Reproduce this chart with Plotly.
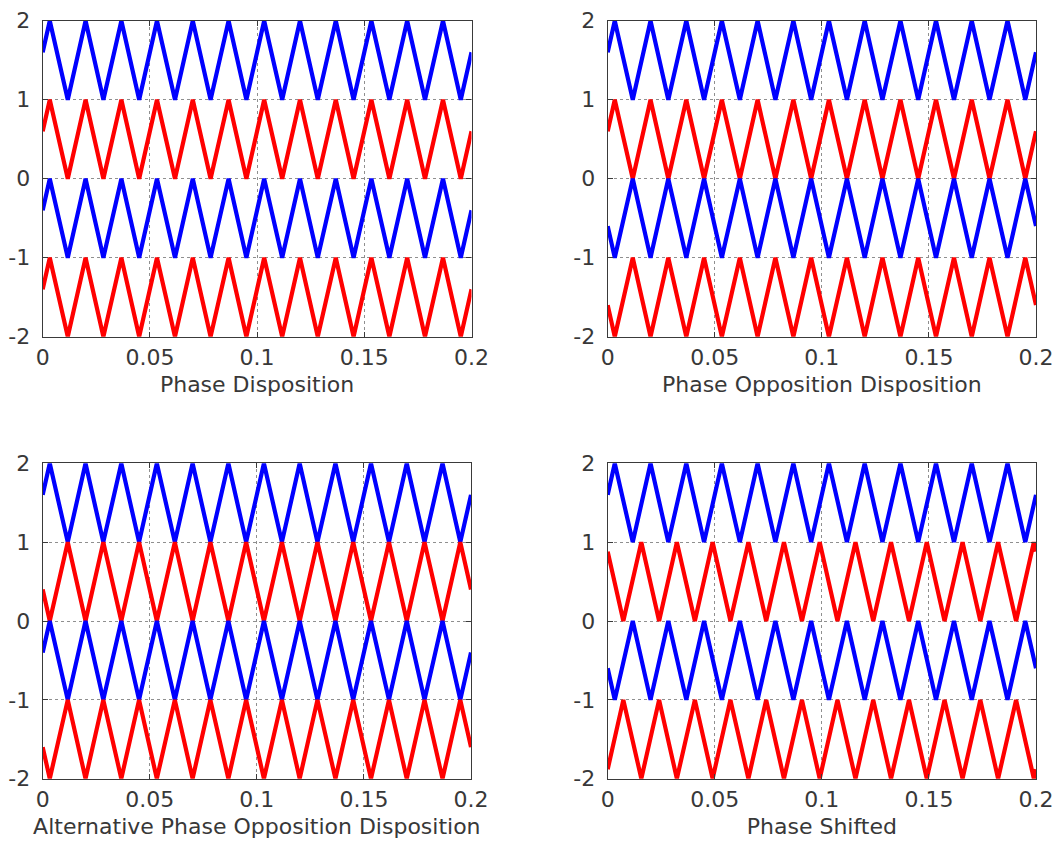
import plotly.graph_objects as go

# ---- data (carrier vertices, normalised to one band) ----
# pattern A: rising at t=0, first peak ~0.0033 s, 60 Hz triangle
T_A = [0.0, 0.0033, 0.0117, 0.0200, 0.0283, 0.0367, 0.0450, 0.0533, 0.0617, 0.0700,
       0.0783, 0.0867, 0.0950, 0.1033, 0.1117, 0.1200, 0.1283, 0.1367, 0.1450, 0.1533,
       0.1617, 0.1700, 0.1783, 0.1867, 0.1950, 0.2]
L_A = [0.6, 1, 0, 1, 0, 1, 0, 1, 0, 1, 0, 1, 0, 1, 0, 1, 0, 1, 0, 1, 0, 1, 0, 1, 0, 0.6]
# pattern B: A in phase opposition
L_B = [0.4, 0, 1, 0, 1, 0, 1, 0, 1, 0, 1, 0, 1, 0, 1, 0, 1, 0, 1, 0, 1, 0, 1, 0, 1, 0.4]
# pattern C: quarter-period shifted carrier (falling at t=0)
T_C = [0.0, 0.0073, 0.0157, 0.0240, 0.0323, 0.0407, 0.0490, 0.0573, 0.0657, 0.0740,
       0.0823, 0.0907, 0.0990, 0.1073, 0.1157, 0.1240, 0.1323, 0.1407, 0.1490, 0.1573,
       0.1657, 0.1740, 0.1823, 0.1907, 0.1990, 0.2]
L_C = [0.88, 0, 1, 0, 1, 0, 1, 0, 1, 0, 1, 0, 1, 0, 1, 0, 1, 0, 1, 0, 1, 0, 1, 0, 1, 0.88]
# pattern D: C in phase opposition
L_D = [0.12, 1, 0, 1, 0, 1, 0, 1, 0, 1, 0, 1, 0, 1, 0, 1, 0, 1, 0, 1, 0, 1, 0, 1, 0, 0.12]

PATTERNS = {"A": (T_A, L_A), "B": (T_A, L_B), "C": (T_C, L_C), "D": (T_C, L_D)}

BAND_BASE = [1, 0, -1, -2]
BAND_COLORS = ["#0000FF", "#FF0000", "#0000FF", "#FF0000"]

TITLES = ["Phase Disposition", "Phase Opposition Disposition",
          "Alternative Phase Opposition Disposition", "Phase Shifted"]
SCHEMES = [["A", "A", "A", "A"],
           ["A", "A", "B", "B"],
           ["A", "B", "A", "B"],
           ["A", "C", "B", "D"]]

X_TICKS = [0, 0.05, 0.1, 0.15, 0.2]
X_TICK_TEXT = ["0", "0.05", "0.1", "0.15", "0.2"]
Y_TICKS = [-2, -1, 0, 1, 2]
Y_TICK_TEXT = ["-2", "-1", "0", "1", "2"]

# ---- layout geometry ----
W, H = 1058, 841
XDOM = [[42.7 / W, 471.5 / W], [607.7 / W, 1036.0 / W],
        [42.7 / W, 471.0 / W], [607.7 / W, 1036.0 / W]]
YDOM = [[1 - 336.7 / H, 1 - 20.7 / H], [1 - 336.7 / H, 1 - 20.7 / H],
        [1 - 778.7 / H, 1 - 463.3 / H], [1 - 778.7 / H, 1 - 463.3 / H]]

FONT = "DejaVu Sans"
TXT = "#383838"

fig = go.Figure()
layout = dict(width=W, height=H,
              margin=dict(l=0, r=0, t=0, b=0, pad=0, autoexpand=False),
              paper_bgcolor="white", plot_bgcolor="white", showlegend=False,
              font=dict(family=FONT, size=22, color=TXT))

for i in range(4):
    n = "" if i == 0 else str(i + 1)
    for b in range(4):
        t, lev = PATTERNS[SCHEMES[i][b]]
        fig.add_trace(go.Scatter(
            x=t, y=[BAND_BASE[b] + v for v in lev], mode="lines",
            line=dict(color=BAND_COLORS[b], width=4.2),
            xaxis="x" + n, yaxis="y" + n, hoverinfo="skip"))
    common = dict(showline=True, linecolor="#3a3a3a", linewidth=1.2, mirror="ticks",
                  ticks="inside", ticklen=5, tickcolor="#3a3a3a",
                  showgrid=True, gridcolor="#8f8f8f", griddash="dot", gridwidth=1,
                  zeroline=False, automargin=False,
                  tickfont=dict(family=FONT, size=22, color=TXT))
    layout["xaxis" + n] = dict(domain=XDOM[i], range=[0, 0.2], anchor="y" + n,
                               tickvals=X_TICKS, ticktext=X_TICK_TEXT,
                               ticklabelstandoff=1,
                               title=dict(text=TITLES[i], standoff=7,
                                          font=dict(family=FONT, size=22, color=TXT)),
                               **common)
    layout["yaxis" + n] = dict(domain=YDOM[i], range=[-2, 2], anchor="x" + n,
                               tickvals=Y_TICKS, ticktext=Y_TICK_TEXT,
                               ticklabelstandoff=7, **common)

fig.update_layout(**layout)
fig.write_html("out.html")
